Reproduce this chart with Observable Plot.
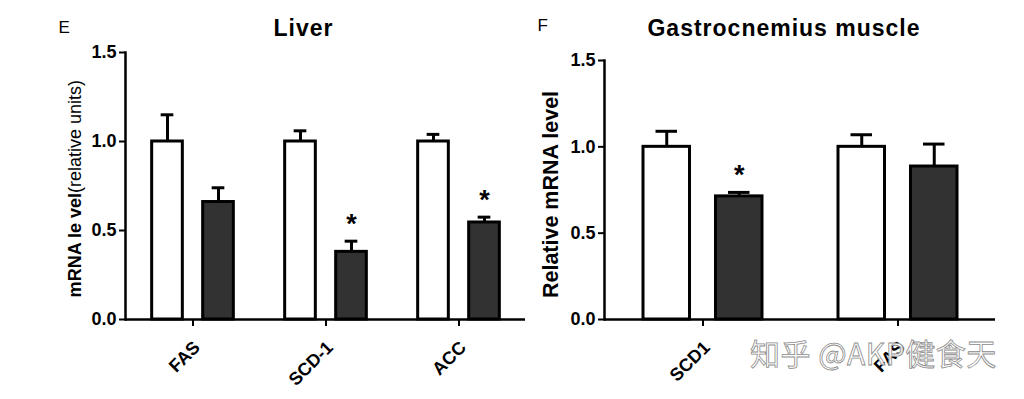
<!DOCTYPE html>
<html><head><meta charset="utf-8">
<script src="https://cdn.jsdelivr.net/npm/d3@7"></script>
<script src="https://cdn.jsdelivr.net/npm/@observablehq/plot@0.6"></script>
<style>
body{margin:0;background:#fff;}
#wrap{position:relative;width:1024px;height:399px;overflow:hidden;background:#fff;}
#wrap svg{position:absolute;top:0;background:transparent !important;}
#wm{position:absolute;left:750px;top:337px;z-index:5;font-family:"Noto Sans CJK SC";font-size:30px;line-height:30px;white-space:nowrap;letter-spacing:0.5px;color:rgba(255,255,255,0.9);-webkit-text-stroke:0.8px #8c8c8c;}
</style></head>
<body><div id="wrap"><div id="wm">知乎 @AKP健食天</div></div>
<script>
// ---- data ----
const yTicks = [0, 0.5, 1.0, 1.5];

const liverGenes = ["FAS", "SCD-1", "ACC"];
const liverControl = [1.00, 1.00, 1.00];
const liverControlErr = [0.15, 0.06, 0.04];
const liverTreated = [0.66, 0.38, 0.545];
const liverTreatedErr = [0.08, 0.06, 0.03];
const liverSig = [false, true, true];

const muscleGenes = ["SCD1", "FAS"];
const muscleControl = [1.00, 1.00];
const muscleControlErr = [0.09, 0.07];
const muscleTreated = [0.713, 0.886];
const muscleTreatedErr = [0.023, 0.13];
const muscleSig = [true, false];

const FONT = '"Liberation Sans", Arial, sans-serif';

function panel(o) {
  const bw = (o.width - o.ml - o.mr) / o.genes.length;
  const ins = (bw - o.barW) / 2;
  const capIns = (bw - o.capW) / 2;
  const ctrl = o.genes.map((g, i) => ({gene: g, value: o.ctrl[i], err: o.ctrlErr[i]}));
  const trt = o.genes.map((g, i) => ({gene: g, value: o.trt[i], err: o.trtErr[i], sig: o.sig[i]}));
  const hi = d => d.value + d.err;
  const sw = 3;
  const svg = Plot.plot({
    width: o.width, height: 399,
    marginLeft: o.ml, marginRight: o.mr, marginTop: o.mt, marginBottom: o.mb,
    style: {fontFamily: FONT, background: "transparent", color: "#000"},
    x: {domain: o.genes, padding: 0, label: null},
    y: {domain: [0, 1.5], label: null},
    marks: [
      Plot.barY(ctrl, {x: "gene", y: "value", fill: "white", stroke: "black", strokeWidth: sw, insetLeft: ins, insetRight: ins, dx: -o.off}),
      Plot.barY(trt, {x: "gene", y: "value", fill: "#323232", stroke: "black", strokeWidth: sw, insetLeft: ins, insetRight: ins, dx: o.off}),
      Plot.ruleX(ctrl, {x: "gene", y1: "value", y2: hi, stroke: "black", strokeWidth: sw, dx: -o.off}),
      Plot.ruleX(trt, {x: "gene", y1: "value", y2: hi, stroke: "black", strokeWidth: sw, dx: o.off}),
      Plot.tickY(ctrl, {x: "gene", y: hi, stroke: "black", strokeWidth: sw, insetLeft: capIns, insetRight: capIns, dx: -o.off}),
      Plot.tickY(trt, {x: "gene", y: hi, stroke: "black", strokeWidth: sw, insetLeft: capIns, insetRight: capIns, dx: o.off}),
      Plot.text(trt.filter(d => d.sig), {x: "gene", y: hi, text: () => "*", dx: o.off, dy: -17, fontSize: 27, fontWeight: "bold"}),
      Plot.ruleY([0], {stroke: "black", strokeWidth: 2.5}),
      Plot.frame({anchor: "left", stroke: "black", strokeWidth: 2.5}),
      Plot.axisY({ticks: yTicks, tickFormat: d3.format(".1f"), tickSize: 6, tickPadding: 3, fontSize: 18, fontWeight: "bold", strokeWidth: 2, label: null}),
      Plot.axisX({tickSize: 7, tickFormat: () => "", strokeWidth: 2, label: null}),
      Plot.axisX({tickSize: 0, tickPadding: 25, dx: 4, tickRotate: -45, fontSize: 18, fontWeight: "bold", label: null}),
      Plot.text([o.title], {frameAnchor: "top", dx: o.titleDx, dy: o.titleDy, lineAnchor: "bottom", fontSize: 23, fontWeight: "bold"}),
      Plot.text([o.letter], {frameAnchor: "top-left", textAnchor: "start", dx: -67, dy: o.letterDy, lineAnchor: "bottom", fontSize: 17}),
      ...o.ylabel
    ]
  });
  svg.style.left = o.left + "px";
  svg.querySelectorAll("text").forEach(t => {
    if (t.textContent === o.title) t.style.letterSpacing = "1px";
  });
  return svg;
}

const wrap = document.getElementById("wrap");

wrap.appendChild(panel({
  left: 0, width: 545, ml: 125, mr: 20, mt: 52, mb: 80,
  genes: liverGenes, ctrl: liverControl, ctrlErr: liverControlErr,
  trt: liverTreated, trtErr: liverTreatedErr, sig: liverSig,
  barW: 31, off: 25.5, capW: 13,
  title: "Liver", titleDx: -22, titleDy: -17,
  letter: "E", letterDy: -20,
  ylabel: [
    Plot.text(["mRNA le vel"], {frameAnchor: "left", rotate: -90, textAnchor: "end", dx: -50, dy: 7, fontSize: 18, fontWeight: "bold"}),
    Plot.text(["(relative units)"], {frameAnchor: "left", rotate: -90, textAnchor: "start", dx: -50, dy: 7, fontSize: 18})
  ]
}));

wrap.appendChild(panel({
  left: 520, width: 504, ml: 84, mr: 29, mt: 60, mb: 80,
  genes: muscleGenes, ctrl: muscleControl, ctrlErr: muscleControlErr,
  trt: muscleTreated, trtErr: muscleTreatedErr, sig: muscleSig,
  barW: 47, off: 36.25, capW: 22,
  title: "Gastrocnemius muscle", titleDx: -16, titleDy: -25,
  letter: "F", letterDy: -30,
  ylabel: [
    Plot.text(["Relative mRNA level"], {frameAnchor: "left", rotate: -90, textAnchor: "middle", dx: -53, dy: 4.5, fontSize: 21.5, fontWeight: "bold"})
  ]
}));
</script>
</body></html>
